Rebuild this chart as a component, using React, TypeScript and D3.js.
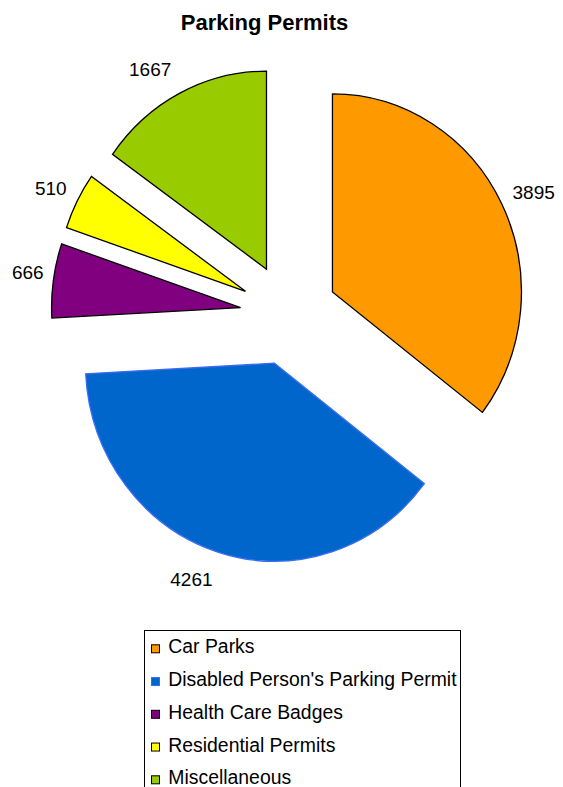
import React from "react";
import * as d3 from "d3";

const categories = [
  "Car Parks",
  "Disabled Person's Parking Permit",
  "Health Care Badges",
  "Residential Permits",
  "Miscellaneous",
];
const values = [3895, 4261, 666, 510, 1667];
const colors = ["#ff9900", "#0066cc", "#800080", "#ffff00", "#99cc00"];
const strokes = ["#000000", "#3a6cf0", "#000000", "#000000", "#000000"];

const W = 563;
const H = 787;
const CX = 288.8;
const CY = 314.5;
const R = 198;
const SX = 189 / 198;
const EXPLODE = 51;

export default function App() {
  const pie = d3
    .pie<number>()
    .sort(null)
    .value((d) => d)
    .startAngle(0)
    .endAngle(2 * Math.PI);
  const arcs = pie(values);
  const arcGen = d3.arc<d3.PieArcDatum<number>>().innerRadius(0).outerRadius(R);

  const labelFont = 19;
  const capH = labelFont * 0.716;

  return (
    <svg
      width={W}
      height={H}
      style={{ position: "absolute", left: 0, top: 0, background: "#fff" }}
      fontFamily="'Liberation Sans', Arial, sans-serif"
    >
      <text x={264.5} y={30} textAnchor="middle" fontSize={22} fontWeight="bold" fill="#000">
        Parking Permits
      </text>
      {arcs.map((a, i) => {
        const mid = (a.startAngle + a.endAngle) / 2;
        const ox = CX + SX * EXPLODE * Math.sin(mid);
        const oy = CY - EXPLODE * Math.cos(mid);
        return (
          <g key={i} transform={`translate(${ox},${oy}) scale(${SX},1)`}>
            <path
              d={arcGen(a) || ""}
              fill={colors[i]}
              stroke={strokes[i]}
              strokeWidth={1.3}
              strokeLinejoin="miter"
              vectorEffect="non-scaling-stroke"
            />
          </g>
        );
      })}
      {arcs.map((a, i) => {
        const mid = (a.startAngle + a.endAngle) / 2;
        const s = Math.sin(mid);
        const c = Math.cos(mid);
        const rr = 259 + 12 * c * c;
        const ax = CX + SX * rr * s;
        const ay = CY - rr * c;
        const anchor = s >= 0 ? "start" : "end";
        const by = c > 0 ? ay : ay + capH;
        return (
          <text key={i} x={ax} y={by} textAnchor={anchor} fontSize={labelFont} fill="#000">
            {values[i]}
          </text>
        );
      })}
      <g>
        <rect x={144.5} y={630.5} width={316} height={200} fill="#fff" stroke="#000" strokeWidth={1} />
        {categories.map((cat, i) => {
          const base = 653.3 + i * 32.75;
          return (
            <g key={i}>
              <rect
                x={151.5}
                y={base - 8.5}
                width={8}
                height={8}
                fill={colors[i]}
                stroke={strokes[i]}
                strokeWidth={1}
              />
              <text x={168.3} y={base} fontSize={19.4} fill="#000">
                {cat}
              </text>
            </g>
          );
        })}
      </g>
    </svg>
  );
}
